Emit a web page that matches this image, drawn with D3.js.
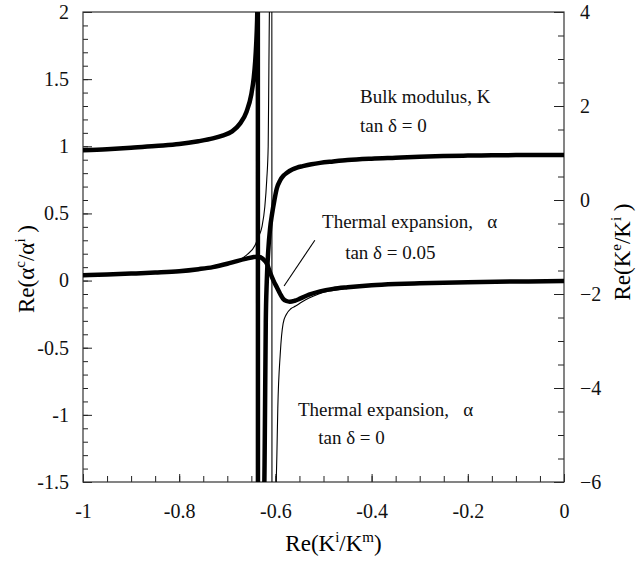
<!DOCTYPE html>
<html>
<head>
<meta charset="utf-8">
<script src="https://cdn.jsdelivr.net/npm/d3@7"></script>
<style>
  body { margin: 0; background: #fff; }
  svg text { font-family: 'Liberation Serif', 'DejaVu Serif', serif; }
  .axis text { font-size: 20px; fill: #111; }
  .axis line { stroke: #222; stroke-width: 1; }
  .axis path { display: none; }
  .note { font-size: 19px; fill: #111; }
</style>
</head>
<body>
<div id="chart"></div>
<script>
// x values: Re(K^i/K^m)
const xTicksMajor = [-1, -0.8, -0.6, -0.4, -0.2, 0];
const xTickLabels = ['-1', '-0.8', '-0.6', '-0.4', '-0.2', '0'];
const leftTicksMajor = [2, 1.5, 1, 0.5, 0, -0.5, -1, -1.5];
const leftTickLabels = ['2', '1.5', '1', '0.5', '0', '-0.5', '-1', '-1.5'];
const rightTicksMajor = [4, 2, 0, -2, -4, -6];
const rightTickLabels = ['4', '2', '0', '\u22122', '\u22124', '\u22126'];

// bulk modulus, tan d = 0 (right axis)
const kX = [-1, -0.95, -0.9, -0.85, -0.8, -0.76, -0.73, -0.71, -0.69, -0.674, -0.66, -0.65,
  -0.645, -0.642, -0.64, -0.638, -0.6365, -0.6362, -0.624, -0.622, -0.62, -0.618, -0.615,
  -0.611, -0.607, -0.602, -0.597, -0.59, -0.583, -0.576, -0.565, -0.555, -0.543, -0.525,
  -0.507, -0.48, -0.45, -0.4, -0.35, -0.3, -0.25, -0.2, -0.15, -0.1, -0.05, 0];
const kY = [1.06, 1.08, 1.11, 1.15, 1.19, 1.25, 1.31, 1.37, 1.46, 1.62, 1.88, 2.25,
  2.6, 2.95, 3.3, 3.83, 4.6, -9, -7, -5, -2.6, -1.75, -1.1,
  -0.6, -0.3, 0.0, 0.25, 0.42, 0.52, 0.58, 0.65, 0.69, 0.72, 0.76,
  0.79, 0.82, 0.85, 0.88, 0.9, 0.92, 0.935, 0.945, 0.95, 0.955, 0.96, 0.96];

// thermal expansion, tan d = 0.05 (left axis)
const aDampX = [-1, -0.95, -0.9, -0.85, -0.8, -0.76, -0.73, -0.7, -0.68, -0.66, -0.645, -0.635,
  -0.627, -0.617, -0.612, -0.604, -0.597, -0.59, -0.584, -0.577, -0.57, -0.56, -0.549, -0.53,
  -0.507, -0.48, -0.45, -0.4, -0.35, -0.3, -0.2, -0.1, 0];
const aDampY = [0.04, 0.045, 0.052, 0.06, 0.07, 0.085, 0.1, 0.125, 0.145, 0.163, 0.175, 0.178,
  0.165, 0.12, 0.07, 0.0, -0.05, -0.1, -0.135, -0.152, -0.157, -0.15, -0.135, -0.105,
  -0.08, -0.062, -0.05, -0.035, -0.026, -0.02, -0.012, -0.007, -0.004];

// thermal expansion, tan d = 0 (left axis)
const aX = [-1, -0.95, -0.9, -0.85, -0.8, -0.76, -0.73, -0.7, -0.678, -0.66, -0.642, -0.636,
  -0.628, -0.622, -0.618, -0.615, -0.6135, -0.612, -0.6075, -0.607, -0.6, -0.597, -0.595,
  -0.59, -0.584, -0.577, -0.568, -0.558, -0.545, -0.53, -0.51, -0.49, -0.46, -0.43, -0.4,
  -0.35, -0.3, -0.2, -0.1, 0];
const aY = [0.04, 0.045, 0.052, 0.06, 0.07, 0.085, 0.1, 0.13, 0.15, 0.19, 0.265, 0.32,
  0.4, 0.55, 0.75, 1.0, 1.6, 2.2, 3.5, -3, -1.75, -1.31, -0.95,
  -0.55, -0.32, -0.25, -0.21, -0.19, -0.16, -0.13, -0.1, -0.08, -0.062, -0.05, -0.04,
  -0.028, -0.021, -0.013, -0.008, -0.005];

// pointer from label to damped curve
const pointerX = [-0.582, -0.518];
const pointerY = [-0.04, 0.30];

const notes = [
  { text: 'Bulk modulus, K', x: -0.424, y: 1.32 },
  { text: 'tan \u03b4 = 0', x: -0.424, y: 1.11 },
  { text: 'Thermal expansion,\u00a0\u00a0\u00a0\u03b1', x: -0.503, y: 0.39 },
  { text: 'tan \u03b4 = 0.05', x: -0.455, y: 0.16 },
  { text: 'Thermal expansion,\u00a0\u00a0\u00a0\u03b1', x: -0.553, y: -1.01 },
  { text: 'tan \u03b4 = 0', x: -0.511, y: -1.22 }
];

const width = 639, height = 563;
const margin = { top: 12, right: 75, bottom: 81, left: 83 };
const plotW = width - margin.left - margin.right;
const plotH = height - margin.top - margin.bottom;
const serif = "'Liberation Serif', 'DejaVu Serif', serif";

const svg = d3.select('#chart').append('svg')
  .attr('width', width)
  .attr('height', height)
  .attr('font-family', serif);

const g = svg.append('g')
  .attr('transform', `translate(${margin.left},${margin.top})`);

const x = d3.scaleLinear().domain([-1, 0]).range([0, plotW]);
const yL = d3.scaleLinear().domain([-1.5, 2]).range([plotH, 0]);
const yR = d3.scaleLinear().domain([-6, 4]).range([plotH, 0]);

svg.append('clipPath').attr('id', 'clip')
  .append('rect').attr('x', 0).attr('y', 0).attr('width', plotW).attr('height', plotH);

// axes with inward ticks
g.append('g').attr('class', 'axis')
  .attr('transform', `translate(0,${plotH})`)
  .call(d3.axisBottom(x).tickValues(d3.range(-1, 0.001, 0.05)).tickSize(-6).tickFormat(''));
g.append('g').attr('class', 'axis')
  .attr('transform', `translate(0,${plotH})`)
  .call(d3.axisBottom(x).tickValues(xTicksMajor).tickSize(-8).tickPadding(22)
    .tickFormat((d, i) => xTickLabels[i]));

g.append('g').attr('class', 'axis')
  .call(d3.axisLeft(yL).tickValues(d3.range(-1.5, 2.001, 0.1)).tickSize(-5).tickFormat(''));
g.append('g').attr('class', 'axis')
  .call(d3.axisLeft(yL).tickValues(leftTicksMajor).tickSize(-9).tickPadding(14)
    .tickFormat((d, i) => leftTickLabels[i]));

g.append('g').attr('class', 'axis')
  .attr('transform', `translate(${plotW},0)`)
  .call(d3.axisRight(yR).tickValues(d3.range(-6, 4.001, 0.5)).tickSize(-6).tickFormat(''));
g.append('g').attr('class', 'axis')
  .attr('transform', `translate(${plotW},0)`)
  .call(d3.axisRight(yR).tickValues(rightTicksMajor).tickSize(-10).tickPadding(16)
    .tickFormat((d, i) => rightTickLabels[i]));

g.selectAll('.axis').attr('font-family', serif).attr('font-size', 20);

// frame
g.append('rect')
  .attr('width', plotW).attr('height', plotH)
  .attr('fill', 'none').attr('stroke', '#333').attr('stroke-width', 1.2);

const curves = g.append('g').attr('clip-path', 'url(#clip)');

const lineL = d3.line()
  .x(d => x(d[0])).y(d => yL(d[1]))
  .curve(d3.curveMonotoneX);
const lineR = d3.line()
  .x(d => x(d[0])).y(d => yR(d[1]))
  .curve(d3.curveMonotoneX);

curves.append('path')
  .datum(aX.map((v, i) => [v, aY[i]]))
  .attr('fill', 'none').attr('stroke', '#000').attr('stroke-width', 1.1)
  .attr('d', lineL);

curves.append('path')
  .datum(aDampX.map((v, i) => [v, aDampY[i]]))
  .attr('fill', 'none').attr('stroke', '#000').attr('stroke-width', 4.5)
  .attr('d', lineL);

curves.append('path')
  .datum(kX.map((v, i) => [v, kY[i]]))
  .attr('fill', 'none').attr('stroke', '#000').attr('stroke-width', 4.5)
  .attr('d', lineR);

g.append('line')
  .attr('x1', x(pointerX[0])).attr('y1', yL(pointerY[0]))
  .attr('x2', x(pointerX[1])).attr('y2', yL(pointerY[1]))
  .attr('stroke', '#000').attr('stroke-width', 1.1);

g.selectAll('.note')
  .data(notes)
  .enter().append('text')
  .attr('class', 'note')
  .attr('x', d => x(d.x))
  .attr('y', d => yL(d.y))
  .text(d => d.text);

// axis titles with raised indices
function title(sel, parts) {
  let up = false;
  parts.forEach(p => {
    const t = sel.append('tspan').text(p[0]);
    if (p[1]) {
      t.attr('dy', up ? 0 : -9).attr('font-size', '15px');
      up = true;
    } else if (up) {
      t.attr('dy', 9);
      up = false;
    }
  });
}

const xt = svg.append('text')
  .attr('x', margin.left + plotW / 2 + 10).attr('y', 551)
  .attr('text-anchor', 'middle').attr('font-size', '23px');
title(xt, [['Re(K'], ['i', true], ['/K'], ['m', true], [')']]);

const ylt = svg.append('text')
  .attr('transform', `translate(34,${margin.top + plotH / 2 + 22}) rotate(-90)`)
  .attr('text-anchor', 'middle').attr('font-size', '23px');
title(ylt, [['Re(\u03b1'], ['c', true], ['/\u03b1'], ['i', true], ['\u00a0)']]);

const yrt = svg.append('text')
  .attr('transform', `translate(630,${margin.top + plotH / 2 + 5}) rotate(-90)`)
  .attr('text-anchor', 'middle').attr('font-size', '23px');
title(yrt, [['Re(K'], ['e', true], ['/K'], ['i', true], ['\u00a0)']]);
</script>
</body>
</html>
